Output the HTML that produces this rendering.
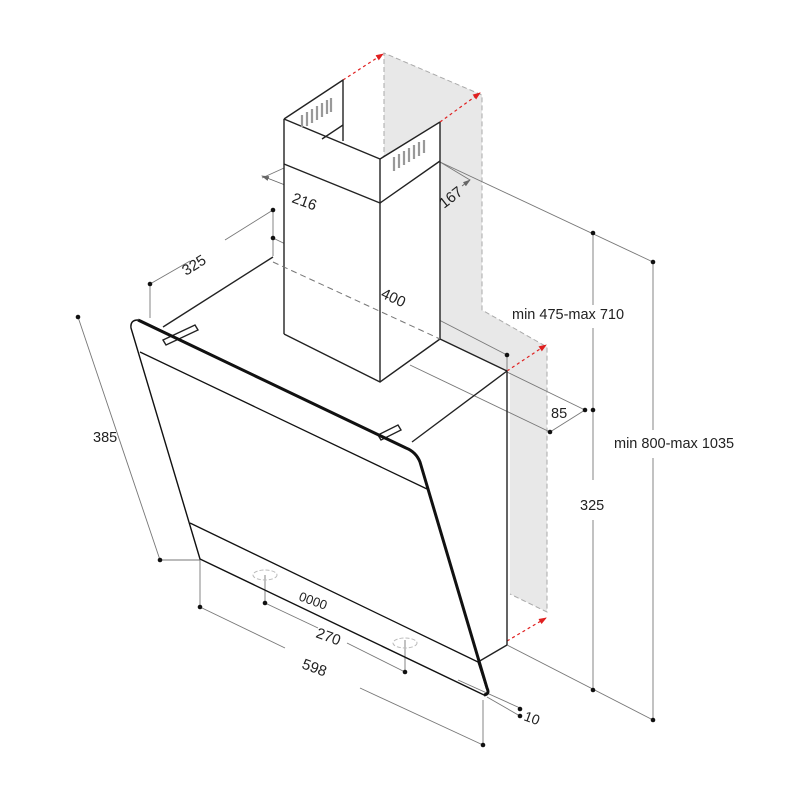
<!DOCTYPE html>
<html><head><style>
html,body{margin:0;padding:0;background:#fff;}
svg{display:block;}
text{font-family:"Liberation Sans",sans-serif;fill:#222;}
</style></head><body>
<svg width="800" height="800" viewBox="0 0 800 800" xmlns="http://www.w3.org/2000/svg">
<defs>
<marker id="ra" markerWidth="8" markerHeight="8" refX="7" refY="4" orient="auto" markerUnits="userSpaceOnUse"><path d="M0,1 L8,4 L0,7 Z" fill="#e02020"/></marker>
<marker id="ga" markerWidth="8" markerHeight="8" refX="7" refY="4" orient="auto" markerUnits="userSpaceOnUse"><path d="M0,1.5 L8,4 L0,6.5 Z" fill="#666"/></marker>
</defs>
<polygon points="384,53 482,95 482,310 547,347 547,612 510,594 510,372 440,339 440,122 384,160" fill="#e8e8e8"/>
<g stroke="#aaa" stroke-width="1" stroke-dasharray="5,3" fill="none">
<polyline points="384,160 384,53 482,95 482,310 547,347 547,612 510,594"/>
</g>
<g stroke="#e02020" stroke-width="1.2" stroke-dasharray="3,3" fill="none">
<line x1="343" y1="80" x2="383" y2="54" marker-end="url(#ra)"/>
<line x1="440" y1="122" x2="480" y2="93" marker-end="url(#ra)"/>
<line x1="507" y1="371" x2="546" y2="345" marker-end="url(#ra)"/>
<line x1="507" y1="641" x2="546" y2="618" marker-end="url(#ra)"/>
</g>
<g stroke="#777" stroke-width="0.9" fill="none">
<line x1="440" y1="162" x2="653" y2="262"/>
<line x1="593" y1="233" x2="593" y2="305"/><line x1="593" y1="328" x2="593" y2="480"/><line x1="593" y1="520" x2="593" y2="690"/>
<line x1="653" y1="262" x2="653" y2="430"/><line x1="653" y1="458" x2="653" y2="720"/>
<line x1="507" y1="645" x2="653" y2="720"/>
<line x1="410" y1="365" x2="550" y2="432"/>
<line x1="507" y1="372" x2="585" y2="410"/>
<line x1="550" y1="432" x2="585" y2="410"/>
<line x1="150" y1="284" x2="150" y2="318"/>
<line x1="273" y1="210" x2="273" y2="256"/>
<line x1="150" y1="284" x2="190" y2="261"/><line x1="225" y1="240" x2="273" y2="210"/>
<line x1="273" y1="238" x2="380" y2="290"/><line x1="410" y1="305" x2="507" y2="355"/>
<line x1="507" y1="355" x2="507" y2="372"/>
<line x1="78" y1="317" x2="160" y2="560"/>
<line x1="160" y1="560" x2="200" y2="560"/>
<line x1="200" y1="560" x2="200" y2="607"/>
<line x1="200" y1="607" x2="285" y2="648"/><line x1="360" y1="688" x2="483" y2="745"/>
<line x1="483" y1="700" x2="483" y2="745"/>
<line x1="265" y1="575" x2="265" y2="603"/>
<line x1="265" y1="603" x2="318" y2="628"/><line x1="347" y1="643" x2="405" y2="672"/>
<line x1="405" y1="640" x2="405" y2="672"/>
<line x1="458" y1="680" x2="520" y2="708"/>
<line x1="487" y1="697" x2="520" y2="716"/>
<line x1="262" y1="178" x2="284" y2="168"/>
<line x1="355" y1="218" x2="380" y2="205"/>
<line x1="380" y1="203" x2="410" y2="218"/>
<line x1="440" y1="162" x2="470" y2="180"/>
</g>
<g stroke="#666" stroke-width="0.9" fill="none">
<line x1="285" y1="185" x2="262" y2="176" marker-end="url(#ga)"/>
<line x1="322" y1="204" x2="355" y2="218" marker-end="url(#ga)"/>
<line x1="438" y1="200" x2="410" y2="218" marker-end="url(#ga)"/>
<line x1="462" y1="186" x2="470" y2="180" marker-end="url(#ga)"/>
</g>
<g fill="#111">
<circle cx="593" cy="233" r="2.3"/><circle cx="653" cy="262" r="2.3"/><circle cx="593" cy="690" r="2.3"/><circle cx="653" cy="720" r="2.3"/>
<circle cx="585" cy="410" r="2.3"/><circle cx="593" cy="410" r="2.3"/><circle cx="550" cy="432" r="2.3"/>
<circle cx="150" cy="284" r="2.3"/><circle cx="273" cy="210" r="2.3"/><circle cx="273" cy="238" r="2.3"/><circle cx="507" cy="355" r="2.3"/>
<circle cx="78" cy="317" r="2.3"/><circle cx="160" cy="560" r="2.3"/>
<circle cx="200" cy="607" r="2.3"/><circle cx="483" cy="745" r="2.3"/>
<circle cx="265" cy="603" r="2.3"/><circle cx="405" cy="672" r="2.3"/>
<circle cx="520" cy="709" r="2.3"/><circle cx="520" cy="716" r="2.3"/>
</g>
<polygon points="284,119 343,80 343,141 284,170" fill="#fff"/>
<polygon points="284,119 380,159 440,122 440,339 380,382 284,334" fill="#fff"/>
<g stroke="#222" stroke-width="1.4" fill="none" stroke-linejoin="round">
<polyline points="284,119 343,80 343,141"/>
<line x1="343" y1="125" x2="322" y2="139"/>
<polyline points="284,119 380,159 440,122"/>
<line x1="284" y1="119" x2="284" y2="334"/>
<line x1="380" y1="159" x2="380" y2="382"/>
<line x1="440" y1="122" x2="440" y2="339"/>
<polyline points="284,164 380,203 440,161"/>
<polyline points="284,334 380,382 440,339"/>
</g>
<g stroke="#999" stroke-width="2.2" fill="none">
<path d="M302,115 v12 M307,112 v14 M312,109 v14 M317,106 v14 M322,103 v14 M327,100 v14 M331,98 v14"/>
<path d="M394,157 v14 M399,154 v14 M404,151 v14 M409,148 v14 M414,145 v14 M419,142 v14 M424,140 v13"/>
</g>
<g stroke="#222" stroke-width="1.4" fill="none">
<line x1="273" y1="257" x2="163" y2="327"/>
<line x1="440" y1="339" x2="507" y2="371"/>
<line x1="507" y1="371" x2="412" y2="442"/>
<line x1="507" y1="371" x2="507" y2="645"/>
<line x1="507" y1="645" x2="478" y2="662"/>
<polygon points="163,340 195,325 198,330 166,345"/>
<polygon points="378,435 398,425 401,430 381,440"/>
</g>
<line x1="273" y1="262" x2="440" y2="339" stroke="#777" stroke-width="1" stroke-dasharray="6,4"/>
<g fill="none" stroke="#111" stroke-linejoin="round">
<path d="M138,320 Q130,320 131,328 L200,559 L484,695 Q490,694 487,688 L420,462 Q416,452 406,448 L140,320" stroke-width="1.4"/>
<path d="M138,320 L406,448 Q416,452 420,462 L487,688 Q490,694 484,695" stroke-width="3"/>
<line x1="140" y1="352" x2="427" y2="489" stroke-width="1.3"/>
<line x1="190" y1="523" x2="478" y2="662" stroke-width="1.3"/>
<line x1="478" y1="662" x2="487" y2="690" stroke-width="1.3"/>
</g>
<g stroke="#bbb" stroke-width="1" fill="none" stroke-dasharray="4,2">
<ellipse cx="265" cy="575" rx="12" ry="5"/>
<ellipse cx="405" cy="643" rx="12" ry="5"/>
</g>
<text x="0" y="0" font-size="15" transform="translate(186,276) rotate(-32)">325</text>
<text x="0" y="0" font-size="15" transform="translate(380,297) rotate(25)">400</text>
<text x="0" y="0" font-size="15" transform="translate(291,202) rotate(20)">216</text>
<text x="0" y="0" font-size="15" transform="translate(444,209) rotate(-38)">167</text>
<text x="512" y="319" font-size="14.5">min 475-max 710</text>
<text x="614" y="448" font-size="14.5">min 800-max 1035</text>
<text x="551" y="418" font-size="14.5">85</text>
<text x="580" y="510" font-size="14.5">325</text>
<text x="93" y="442" font-size="14.5">385</text>
<text x="0" y="0" font-size="13" transform="translate(298,600) rotate(20)">0000</text>
<text x="0" y="0" font-size="15" transform="translate(315,637) rotate(20)">270</text>
<text x="0" y="0" font-size="15" transform="translate(301,668) rotate(20)">598</text>
<text x="0" y="0" font-size="14" transform="translate(523,720) rotate(20)">10</text>
</svg>
</body></html>
